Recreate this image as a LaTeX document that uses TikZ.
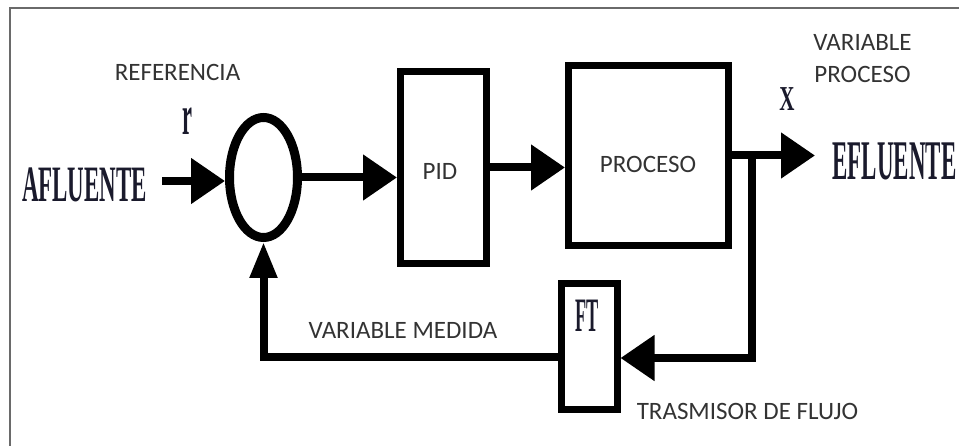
\documentclass[tikz,border=0pt]{standalone}
\usepackage{fontspec}
\usepackage{graphicx}
\setmainfont{Liberation Serif}
\newfontfamily\lblfont{Carlito}
\usetikzlibrary{arrows.meta,shapes.geometric,calc}
\definecolor{labelgray}{HTML}{333333}
\definecolor{framegray}{HTML}{6A6A6A}
\definecolor{inkblue}{HTML}{1A1A2C}
\tikzset{
  blk/.style={draw=black, line width=7pt, rectangle, inner sep=0pt},
  sumnode/.style={draw=black, line width=9pt, ellipse, inner sep=0pt, minimum width=68pt, minimum height=120pt},
  lbl/.style={font=\lblfont\fontsize{25}{32}\selectfont, text=labelgray, inner sep=0pt},
  bigserif/.style={font=\bfseries, text=inkblue, inner sep=0pt},
  ln/.style={line width=8pt},
  arr/.style={line width=8pt, -{Triangle[length=34pt,width=44pt]}},
  arrthin/.style={line width=8pt, -{Triangle[length=36pt,width=26pt]}}
}
\begin{document}
\begin{tikzpicture}[x=1pt,y=-1pt]
\useasboundingbox (0,0) rectangle (959,446);
% frame
\coordinate (f1) at (10,446);
\coordinate (f2) at (10,8);
\coordinate (f3) at (959,8);
\draw[framegray, line width=2pt] (f1) -- (f2) -- (f3);

% blocks
\node[sumnode] (sum) at (263.5,177.5) {};
\node[blk, minimum width=86pt, minimum height=192pt] (pid) at (443.5,167.5) {};
\node[blk, minimum width=160pt, minimum height=180pt] (proc) at (648.5,155.5) {};
\node[blk, minimum width=56pt, minimum height=126pt] (ft) at (589,346.5) {};

% texts in blocks
\node[lbl] (pidtxt) at (440,171) {PID};
\node[lbl] (proctxt) at (648,164) {PROCESO};
\node[bigserif, font=\bfseries\fontsize{48}{48}\selectfont] (fttxt) at (587,316) {\scalebox{0.38}[1]{FT}};

% labels
\node[lbl] (ref) at (177.5,72.5) {REFERENCIA};
\node[bigserif, font=\bfseries\fontsize{28}{28}\selectfont] (rlbl) at (187,121) {\scalebox{0.8}[2.0]{r}};
\node[lbl] (vmed) at (403,330) {VARIABLE MEDIDA};
\node[lbl] (tras) at (747.5,411) {TRASMISOR DE FLUJO};
\node[lbl, align=center] (vproc) at (862.5,59) {VARIABLE\\PROCESO};
\node[bigserif, font=\bfseries\fontsize{35}{35}\selectfont] (xlbl) at (787,99) {\scalebox{0.6}[1]{X}};
\node[bigserif, font=\bfseries\fontsize{51}{51}\selectfont, anchor=center] (afl) at (84.5,185) {\scalebox{0.45}[1]{AFLUENTE}};
\node[bigserif, font=\bfseries\fontsize{56}{56}\selectfont, anchor=center] (efl) at (894.5,161.5) {\scalebox{0.41}[1]{EFLUENTE}};

% connector points
\coordinate (ain) at (162,181);
\coordinate (out) at (815,155.5);
\coordinate (br) at (752,155.5);
\coordinate (fbr) at (752,358);
\coordinate (fbl) at (263.5,357.5);

% connectors
\draw[arr] (ain) -- (ain -| sum.west);
\draw[arr] (sum.east) -- (sum.east -| pid.west);
\draw[arr] (pid.east) -- (pid.east -| proc.west);
\draw[arr] (proc.east) -- (out);
\draw[arr] (br) -- (fbr) -- (fbr -| ft.east);
\draw[arrthin] (ft.west |- fbl) -- (fbl) -- (sum.south);
\end{tikzpicture}
\end{document}
